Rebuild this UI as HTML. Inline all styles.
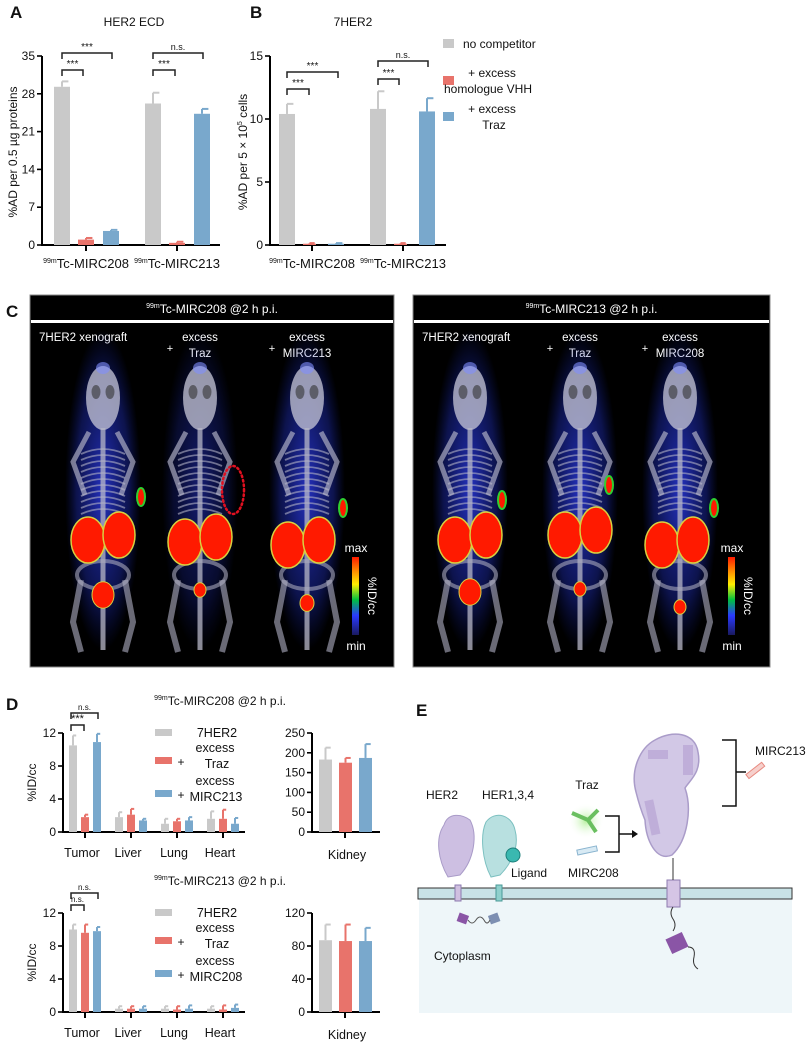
<!DOCTYPE html>
<html><head><meta charset="utf-8"><style>
html,body{margin:0;padding:0;background:#fff}
svg{display:block;font-family:"Liberation Sans",Arial,sans-serif}
</style></head><body>
<svg id="fig" width="812" height="1048" viewBox="0 0 812 1048" xmlns="http://www.w3.org/2000/svg">
<defs>
<linearGradient id="cbar" x1="0" y1="1" x2="0" y2="0">
<stop offset="0" stop-color="#1a1a60"/><stop offset="0.25" stop-color="#2a3aff"/><stop offset="0.45" stop-color="#00c040"/><stop offset="0.65" stop-color="#ffee00"/><stop offset="0.85" stop-color="#ff7a00"/><stop offset="1" stop-color="#ff1a00"/>
</linearGradient>
<radialGradient id="glow"><stop offset="0" stop-color="#3040ff" stop-opacity="0.75"/><stop offset="0.7" stop-color="#2030c0" stop-opacity="0.4"/><stop offset="1" stop-color="#1020a0" stop-opacity="0"/></radialGradient>
<radialGradient id="trazglow"><stop offset="0" stop-color="#b8f0a0"/><stop offset="1" stop-color="#fff" stop-opacity="0"/></radialGradient>
</defs>
<g id="root"></g>
</svg>
<script>
// ---------- Panel A data ----------
const aGroups = ["MIRC208","MIRC213"];
const aNoComp = [29.3, 26.2];
const aNoCompErr = [1.0, 2.0];
const aVHH = [1.0, 0.4];
const aVHHErr = [0.3, 0.2];
const aTraz = [2.6, 24.3];
const aTrazErr = [0.2, 0.9];
const aTicks = [0,7,14,21,28,35];
// ---------- Panel B data ----------
const bNoComp = [10.4, 10.8];
const bNoCompErr = [0.8, 1.4];
const bVHH = [0.1, 0.1];
const bVHHErr = [0.05, 0.05];
const bTraz = [0.1, 10.6];
const bTrazErr = [0.05, 1.05];
const bTicks = [0,5,10,15];
// ---------- Panel D data ----------
const dOrgans = ["Tumor","Liver","Lung","Heart"];
const d1Ctrl = [10.5, 1.8, 1.0, 1.6];
const d1CtrlErr = [1.2, 0.6, 0.6, 0.9];
const d1Traz = [1.8, 2.1, 1.3, 1.6];
const d1TrazErr = [0.3, 0.7, 0.3, 1.1];
const d1Comp = [10.9, 1.4, 1.4, 1.0];
const d1CompErr = [1.0, 0.2, 0.4, 0.7];
const d1Kidney = [183, 175, 187];
const d1KidneyErr = [30, 12, 35];
const d2Ctrl = [10.0, 0.4, 0.4, 0.4];
const d2CtrlErr = [0.6, 0.3, 0.3, 0.3];
const d2Traz = [9.6, 0.4, 0.3, 0.3];
const d2TrazErr = [1.0, 0.3, 0.4, 0.5];
const d2Comp = [9.8, 0.4, 0.4, 0.5];
const d2CompErr = [0.5, 0.3, 0.4, 0.4];
const d2Kidney = [87, 86, 86];
const d2KidneyErr = [19, 20, 16];
const dTicks = [0,4,8,12];
const dKTicks1 = [0,50,100,150,200,250];
const dKTicks2 = [0,40,80,120];

const NS="http://www.w3.org/2000/svg";
const root=document.getElementById('root');
const GRAY="#c9c9c9", RED="#e8736b", BLUE="#79a8cc";
function el(tag,attrs,parent,text){const e=document.createElementNS(NS,tag);for(const k in attrs)e.setAttribute(k,attrs[k]);if(text!==undefined)e.textContent=text;(parent||root).appendChild(e);return e;}
function txt(x,y,s,size,opts,parent){opts=opts||{};const t=el('text',Object.assign({x:x,y:y,'font-size':size,fill:opts.fill||'#111','text-anchor':opts.anchor||'middle'},opts.extra||{}),parent,s);return t;}
function scaleY(v,max,y0,y1){return y0-(v/max)*(y0-y1);}

function bar(x,w,v,err,max,y0,y1,color,name,g){
  const y=scaleY(v,max,y0,y1);
  const r=el('rect',{x:x,y:y,width:w,height:Math.max(0,y0-y),fill:color},g);
  
  
  const ye=scaleY(v+err,max,y0,y1);
  const cx=x+w/2;
  el('line',{x1:cx,y1:y,x2:cx,y2:ye,stroke:color,'stroke-width':2},g);
  el('line',{x1:cx,y1:ye,x2:cx+w*0.4,y2:ye,stroke:color,'stroke-width':2},g);
}
function axisY(x,y0,y1,ticks,max,g,fs){
  el('line',{x1:x,y1:y0+1,x2:x,y2:y1,stroke:'#000','stroke-width':2},g);
  ticks.forEach(t=>{const y=scaleY(t,max,y0,y1);el('line',{x1:x-5,y1:y,x2:x,y2:y,stroke:'#000','stroke-width':1.6},g);txt(x-7,y+4,String(t),fs,{anchor:'end'},g);});
}
function sigBracket(x1,x2,y,label,g,fs){
  el('path',{d:`M${x1},${y+6}V${y}H${x2}V${y+6}`,fill:'none',stroke:'#222','stroke-width':1.5},g);
  txt((x1+x2)/2,y-3,label,fs||10,{},g);
}

// ---------- Panel A ----------
(function(){
  const g=el('g',{});
  txt(10,18,'A',17,{anchor:'start',extra:{'font-weight':'bold'}},g);
  txt(134,26,'HER2 ECD',12,{},g);
  const y0=245,y1=56,max=35;
  axisY(42,y0,y1,aTicks,max,g,12);
  el('line',{x1:41,y1:y0,x2:220,y2:y0,stroke:'#000','stroke-width':2},g);
  const gx=[54,145];
  aGroups.forEach((n,i)=>{
    bar(gx[i],16,aNoComp[i],aNoCompErr[i],max,y0,y1,GRAY,'bar-a-nocomp-'+n,g);
    bar(gx[i]+24,16,aVHH[i],aVHHErr[i],max,y0,y1,RED,'bar-a-vhh-'+n,g);
    bar(gx[i]+49,16,aTraz[i],aTrazErr[i],max,y0,y1,BLUE,'bar-a-traz-'+n,g);
    const c=gx[i]+32;
    el('line',{x1:c,y1:y0,x2:c,y2:y0+6,stroke:'#000','stroke-width':2},g);
    const t=txt(c,268,'',13,{},g);
    el('tspan',{'font-size':7,dy:-5},t,'99m');el('tspan',{dy:5},t,'Tc-'+n);
  });
  sigBracket(62,83,70,'***',g);sigBracket(62,112,53,'***',g);
  sigBracket(153,175,70,'***',g);sigBracket(153,203,53,'n.s.',g,9);
  const yl=txt(0,0,'%AD per 0.5 µg proteins',12,{extra:{transform:'translate(17,152) rotate(-90)'}},g);
  
})();
// ---------- Panel B ----------
(function(){
  const g=el('g',{});
  txt(250,18,'B',17,{anchor:'start',extra:{'font-weight':'bold'}},g);
  txt(353,26,'7HER2',12,{},g);
  const y0=245,y1=56,max=15;
  axisY(270,y0,y1,bTicks,max,g,12);
  el('line',{x1:269,y1:y0,x2:446,y2:y0,stroke:'#000','stroke-width':2},g);
  const gx=[279,370];
  aGroups.forEach((n,i)=>{
    bar(gx[i],16,bNoComp[i],bNoCompErr[i],max,y0,y1,GRAY,'bar-b-nocomp-'+n,g);
    bar(gx[i]+24,13,bVHH[i],bVHHErr[i],max,y0,y1,RED,'bar-b-vhh-'+n,g);
    bar(gx[i]+49,16,bTraz[i],bTrazErr[i],max,y0,y1,BLUE,'bar-b-traz-'+n,g);
    const c=gx[i]+33;
    el('line',{x1:c,y1:y0,x2:c,y2:y0+6,stroke:'#000','stroke-width':2},g);
    const t=txt(c,268,'',13,{},g);
    el('tspan',{'font-size':7,dy:-5},t,'99m');el('tspan',{dy:5},t,'Tc-'+n);
  });
  sigBracket(287,309,89,'***',g);sigBracket(287,338,72,'***',g);
  sigBracket(378,399,79,'***',g);sigBracket(378,428,61,'n.s.',g,9);
  const yl=txt(0,0,'',12,{extra:{transform:'translate(247,152) rotate(-90)'}},g);
  el('tspan',{},yl,'%AD per 5 × 10');el('tspan',{'font-size':7,dy:-5},yl,'5');el('tspan',{dy:5},yl,' cells');
  
  const L=el('g',{},g);
  el('rect',{x:443,y:39,width:11,height:9,fill:GRAY},L);txt(463,48,'no competitor',12,{anchor:'start'},L);
  el('rect',{x:443,y:76,width:11,height:9,fill:RED},L);txt(492,77,'+  excess',12,{},L);txt(488,93,'homologue VHH',12,{},L);
  el('rect',{x:443,y:112,width:11,height:9,fill:BLUE},L);txt(492,113,'+  excess',12,{},L);txt(494,129,'Traz',12,{},L);
})();

// ---------- Panel C ----------
function mouse(g,cx,opt){
  const m=el('g',{},g);
  el('ellipse',{cx:cx,cy:490,rx:38,ry:160,fill:'url(#glow)',opacity:opt.blue},m);
  el('ellipse',{cx:cx,cy:398,rx:17,ry:32,fill:'#c8c8d8',opacity:0.75},m);
  el('ellipse',{cx:cx-7,cy:392,rx:4.5,ry:7,fill:'#333',opacity:0.6},m);
  el('ellipse',{cx:cx+7,cy:392,rx:4.5,ry:7,fill:'#333',opacity:0.6},m);
  el('ellipse',{cx:cx,cy:368,rx:7,ry:6,fill:'#8090ff',opacity:0.6},m);
  el('line',{x1:cx,y1:428,x2:cx,y2:650,stroke:'#b8b8c8','stroke-width':5,opacity:0.75},m);
  for(let y=448;y<510;y+=6){el('path',{d:`M${cx-22},${y+6}Q${cx},${y-4} ${cx+22},${y+6}`,fill:'none',stroke:'#b0b0c4','stroke-width':1.8,opacity:0.6},m);}
  el('path',{d:`M${cx-14},${432}L${cx-30},${462}L${cx-18},${495}`,fill:'none',stroke:'#b8b8cc','stroke-width':5,opacity:0.65},m);
  el('path',{d:`M${cx+14},${432}L${cx+30},${462}L${cx+18},${495}`,fill:'none',stroke:'#b8b8cc','stroke-width':5,opacity:0.65},m);
  el('ellipse',{cx:cx,cy:575,rx:26,ry:14,fill:'none',stroke:'#a8a8bc','stroke-width':4,opacity:0.6},m);
  el('path',{d:`M${cx-22},580L${cx-30},622L${cx-22},652`,fill:'none',stroke:'#b0b0c4','stroke-width':6,opacity:0.6},m);
  el('path',{d:`M${cx+22},580L${cx+30},622L${cx+22},652`,fill:'none',stroke:'#b0b0c4','stroke-width':6,opacity:0.6},m);
  el('ellipse',{cx:cx-15+opt.kdx,cy:opt.ky,rx:17,ry:23,fill:'#ff1a00',stroke:'#d8d040','stroke-width':1.5},m);
  el('ellipse',{cx:cx+16+opt.kdx,cy:opt.ky-5,rx:16,ry:23,fill:'#ff1a00',stroke:'#d8d040','stroke-width':1.5},m);
  el('ellipse',{cx:cx+opt.bdx,cy:opt.by,rx:opt.br,ry:opt.br*1.2,fill:'#ff1a00',stroke:'#d8d040','stroke-width':1},m);
  if(opt.tumor){el('ellipse',{cx:cx+opt.tx,cy:opt.ty,rx:4,ry:9,fill:'#ff1a00',stroke:'#30d030','stroke-width':2},m);}
  if(opt.circle){el('ellipse',{cx:cx+opt.tx,cy:opt.ty,rx:11,ry:24,fill:'none',stroke:'#e01020','stroke-width':2.5,'stroke-dasharray':'1.5,3','stroke-linecap':'round'},m);}
}
function petPanel(x,w,title,labels,mice,name){
  const g=el('g',{});
  el('rect',{x:x,y:295,width:w,height:372,fill:'#000',stroke:'#888','stroke-width':1},g);
  const t=txt(x+w/2,313,'',12,{fill:'#fff'},g);
  el('tspan',{'font-size':7,dy:-5},t,'99m');el('tspan',{dy:5},t,title);
  el('rect',{x:x+1,y:320,width:w-2,height:3,fill:'#fff'},g);
  txt(x+9,341,'7HER2 xenograft',11.5,{fill:'#fff',anchor:'start'},g);
  txt(mice[1].cx,341,'excess',11.5,{fill:'#fff'},g);txt(mice[1].cx,357,'Traz',11.5,{fill:'#fff'},g);
  txt(mice[1].cx-30,352,'+',11,{fill:'#fff'},g);
  txt(mice[2].cx,341,'excess',11.5,{fill:'#fff'},g);txt(mice[2].cx,357,labels,11.5,{fill:'#fff'},g);
  txt(mice[2].cx-35,352,'+',11,{fill:'#fff'},g);
  mice.forEach(m=>mouse(g,m.cx,m));
  const cbx=x+w-42;
  el('rect',{x:cbx,y:557,width:7,height:78,fill:'url(#cbar)',},g);
  txt(cbx+4,552,'max',12,{fill:'#fff'},g);txt(cbx+4,650,'min',12,{fill:'#fff'},g);
  txt(0,0,'%ID/cc',12,{fill:'#fff',extra:{transform:`translate(${cbx+16},596) rotate(90)`}},g);
}
petPanel(30,364,'Tc-MIRC208 @2 h p.i.','MIRC213',[
 {cx:103,kdx:0,ky:540,by:595,br:11,bdx:0,tumor:true,tx:38,ty:497,blue:1},
 {cx:200,kdx:0,ky:542,by:590,br:6,bdx:0,tumor:false,circle:true,tx:33,ty:490,blue:0.6},
 {cx:307,kdx:-4,ky:545,by:603,br:7,bdx:0,tumor:true,tx:36,ty:508,blue:1}],'panel-c-mirc208');
petPanel(413,357,'Tc-MIRC213 @2 h p.i.','MIRC208',[
 {cx:470,kdx:0,ky:540,by:592,br:11,bdx:0,tumor:true,tx:32,ty:500,blue:1},
 {cx:580,kdx:0,ky:535,by:589,br:6,bdx:0,tumor:true,tx:29,ty:485,blue:1},
 {cx:680,kdx:-3,ky:545,by:607,br:6,bdx:0,tumor:true,tx:34,ty:508,blue:1}],'panel-c-mirc213');
txt(6,317,'C',17,{anchor:'start',extra:{'font-weight':'bold'}});

// ---------- Panel D ----------
function panelD(yTop,y0,title,C,Ce,T,Te,P,Pe,K,Ke,kTicks,kMax,comp,sigs,name){
  const g=el('g',{});
  const y1=yTop;
  const t=txt(220,yTop-28,'',12,{},g);
  el('tspan',{'font-size':7,dy:-5},t,'99m');el('tspan',{dy:5},t,title);
  axisY(63,y0,y1,dTicks,12,g,12);
  el('line',{x1:62,y1:y0,x2:245,y2:y0,stroke:'#000','stroke-width':2},g);
  dOrgans.forEach((o,i)=>{
    const gx=69+i*46;
    bar(gx,8,C[i],Ce[i],12,y0,y1,GRAY,'bar-d-ctrl-'+o,g);
    bar(gx+12,8,T[i],Te[i],12,y0,y1,RED,'bar-d-traz-'+o,g);
    bar(gx+24,8,P[i],Pe[i],12,y0,y1,BLUE,'bar-d-comp-'+o,g);
    el('line',{x1:gx+16,y1:y0,x2:gx+16,y2:y0+6,stroke:'#000','stroke-width':2},g);
    txt(gx+13,y0+25,o,12.5,{},g);
  });
  sigBracket(71,84,yTop-8,sigs[0],g,sigs[0]==='***'?11:8);
  sigBracket(71,98,yTop-20,'n.s.',g,8);
  txt(0,0,'%ID/cc',12,{extra:{transform:`translate(36,${(y0+y1)/2}) rotate(-90)`}},g);
  el('rect',{x:155,y:yTop-4,width:17,height:7,fill:GRAY},g);txt(217,yTop+4,'7HER2',12.5,{},g);
  el('rect',{x:155,y:yTop+24,width:17,height:7,fill:RED},g);txt(181,yTop+33,'+',12,{},g);txt(215,yTop+19,'excess',12.5,{},g);txt(217,yTop+35,'Traz',12.5,{},g);
  el('rect',{x:155,y:yTop+57,width:17,height:7,fill:BLUE},g);txt(181,yTop+66,'+',12,{},g);txt(215,yTop+52,'excess',12.5,{},g);txt(216,yTop+68,comp,12.5,{},g);
  axisY(312,y0,y1,kTicks,kMax,g,12);
  el('line',{x1:311,y1:y0,x2:380,y2:y0,stroke:'#000','stroke-width':2},g);
  bar(319,13,K[0],Ke[0],kMax,y0,y1,GRAY,'bar-kidney-ctrl',g);
  bar(339,13,K[1],Ke[1],kMax,y0,y1,RED,'bar-kidney-traz',g);
  bar(359,13,K[2],Ke[2],kMax,y0,y1,BLUE,'bar-kidney-comp',g);
  el('line',{x1:345,y1:y0,x2:345,y2:y0+6,stroke:'#000','stroke-width':2},g);
  txt(347,y0+27,'Kidney',12.5,{},g);
}
txt(6,710,'D',17,{anchor:'start',extra:{'font-weight':'bold'}});
panelD(733,832,'Tc-MIRC208 @2 h p.i.',d1Ctrl,d1CtrlErr,d1Traz,d1TrazErr,d1Comp,d1CompErr,d1Kidney,d1KidneyErr,dKTicks1,250,'MIRC213',['***'],'panel-d-mirc208');
panelD(913,1012,'Tc-MIRC213 @2 h p.i.',d2Ctrl,d2CtrlErr,d2Traz,d2TrazErr,d2Comp,d2CompErr,d2Kidney,d2KidneyErr,dKTicks2,120,'MIRC208',['n.s.'],'panel-d-mirc213');

// ---------- Panel E ----------
(function(){
  const g=el('g',{});
  txt(416,716,'E',17,{anchor:'start',extra:{'font-weight':'bold'}},g);
  el('rect',{x:419,y:899,width:373,height:114,fill:'#eef6f9'},g);
  el('rect',{x:418,y:888,width:374,height:11,fill:'#c8e2e6',stroke:'#333','stroke-width':1,},g);
  txt(426,799,'HER2',12,{anchor:'start'},g);txt(482,799,'HER1,3,4',12,{anchor:'start'},g);
  txt(511,877,'Ligand',12,{anchor:'start'},g);txt(568,877,'MIRC208',12,{anchor:'start'},g);
  txt(587,789,'Traz',12,{},g);txt(434,960,'Cytoplasm',12,{anchor:'start'},g);txt(755,755,'MIRC213',12,{anchor:'start'},g);
  el('path',{d:'M448,877 C438,860 435,838 444,825 C448,812 462,814 470,820 C478,835 474,860 460,875 Z',fill:'#cdbfe2',stroke:'#a99bc8'},g);
  el('path',{d:'M491,877 C482,860 480,835 486,822 C495,810 512,815 515,830 C520,848 510,865 500,875 Z',fill:'#b8e0e0',stroke:'#7cc0c0'},g);
  el('circle',{cx:513,cy:855,r:7,fill:'#3ab8b0',stroke:'#1c7f7a'},g);
  el('rect',{x:455,y:885,width:6,height:16,fill:'#d0c0e0',stroke:'#8d7bb0'},g);
  el('rect',{x:496,y:885,width:6,height:16,fill:'#8fd0cc',stroke:'#4a9a98'},g);
  el('rect',{x:458,y:914,width:10,height:9,fill:'#8a55a6',transform:'rotate(20 463 918)'},g);
  el('rect',{x:489,y:914,width:10,height:9,fill:'#7d8fb2',transform:'rotate(-20 494 918)'},g);
  el('path',{d:'M468,920 q4,6 8,0 q4,-6 8,0 q3,6 6,0',fill:'none',stroke:'#555'},g);
  el('circle',{cx:586,cy:821,r:18,fill:'url(#trazglow)'},g);
  el('path',{d:'M572,813 L588,820 L598,810 M588,820 L596,832',fill:'none',stroke:'#6abf60','stroke-width':4},g);
  el('rect',{x:577,y:848,width:20,height:5,fill:'#d8eaf4',stroke:'#8ab4cf',transform:'rotate(-12 587 850)'},g);
  el('path',{d:'M605,816 H619 V852 H605 M619,834 H632',fill:'none',stroke:'#111','stroke-width':1.5},g);
  el('path',{d:'M632,830 L638,834 L632,838 Z',fill:'#111'},g);
  // HER2 large (smaller, correct position)
  el('path',{d:'M636,792 C630,770 640,748 655,740 C672,730 695,732 698,752 C702,772 690,780 685,788 C692,808 688,840 672,855 C656,862 646,840 645,820 C640,808 638,800 636,792 Z',fill:'#d2c8e6',stroke:'#aa9cc9','stroke-width':1.5},g);
  el('rect',{x:648,y:800,width:9,height:35,fill:'#bfaed9',transform:'rotate(-12 652 818)'},g);
  el('rect',{x:683,y:745,width:10,height:30,fill:'#bfaed9'},g);
  el('rect',{x:648,y:750,width:20,height:9,fill:'#bfaed9'},g);
  el('rect',{x:667,y:880,width:13,height:27,fill:'#d5c5e5',stroke:'#8d7bb0'},g);
  el('path',{d:'M673,858 V880 M673,907 q-4,6 0,12 q4,6 0,12',fill:'none',stroke:'#333'},g);
  el('rect',{x:668,y:935,width:18,height:16,fill:'#8a55a6',transform:'rotate(-25 677 943)'},g);
  el('path',{d:'M688,947 q8,0 6,10 q-2,8 4,12',fill:'none',stroke:'#333'},g);
  el('path',{d:'M722,740 H736 V806 H722 M736,772 H746',fill:'none',stroke:'#111','stroke-width':1.5},g);
  el('rect',{x:745,y:768,width:20,height:5,fill:'#f6d0cc',stroke:'#e88a80',transform:'rotate(-38 755 770)'},g);
})();
</script>
</body></html>
